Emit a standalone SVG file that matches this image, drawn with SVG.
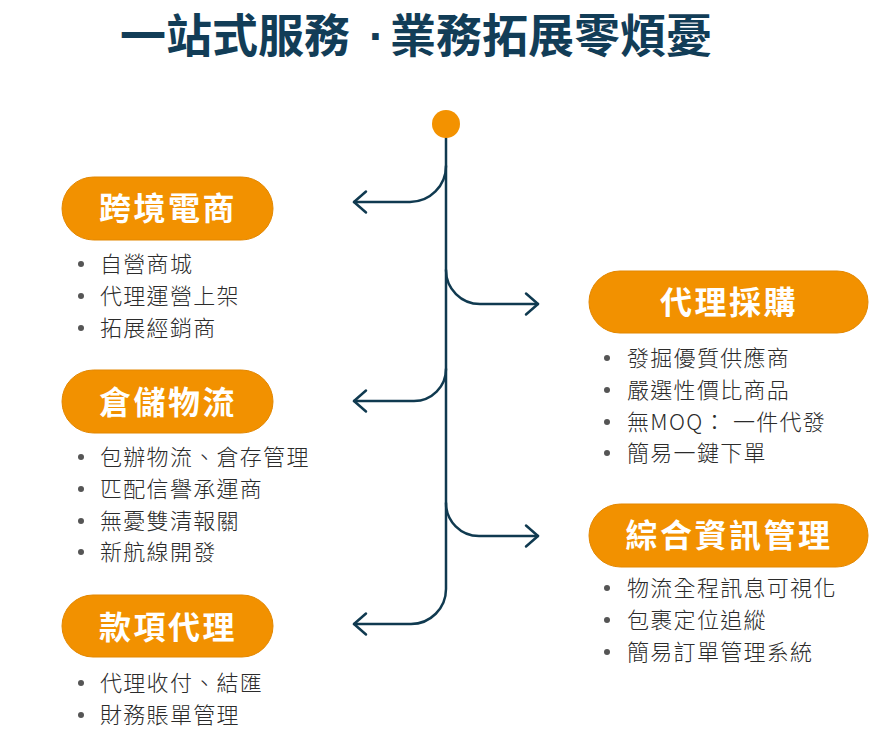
<svg xmlns="http://www.w3.org/2000/svg" width="870" height="731" viewBox="0 0 870 731">
<defs>
<style>
.title{font-family:"Noto Sans CJK TC","Noto Sans CJK SC",sans-serif;font-weight:700;font-size:46px;fill:#123d57}
.tdot{font-family:"Liberation Sans",sans-serif}
.pill{fill:#f29100;stroke:#e38700;stroke-width:1}
.ptxt{font-family:"Noto Sans CJK TC","Noto Sans CJK SC",sans-serif;font-weight:700;font-size:32px;fill:#ffffff;text-anchor:middle;letter-spacing:2.5px}
.btxt{font-family:"Noto Sans CJK TC","Noto Sans CJK SC",sans-serif;font-weight:300;font-size:22px;fill:#2b2b2b;letter-spacing:1.3px}
.dot{fill:#555555}
.conn{fill:none;stroke:#103a50;stroke-width:2.5;stroke-linecap:round}
</style>
<marker id="arr" markerUnits="userSpaceOnUse" markerWidth="16" markerHeight="26" refX="12" refY="11" orient="auto" overflow="visible">
<path d="M0,0.5 L12,11 L0,21.5" fill="none" stroke="#103a50" stroke-width="2.5" stroke-linecap="round" stroke-linejoin="round"/>
</marker>
</defs>
<rect width="870" height="731" fill="#ffffff"/>
<text class="title" x="120" y="52">一站式服務<tspan class="tdot" x="369">·</tspan><tspan x="390">業務拓展零煩憂</tspan></text>
<g id="connectors">
<path class="conn" d="M446,138 V589 A35,35 0 0 1 411,624 H354" marker-end="url(#arr)"/>
<path class="conn" d="M446,166 A36,36 0 0 1 410,202 H354" marker-end="url(#arr)"/>
<path class="conn" d="M446,270 A34,34 0 0 0 480,304 H538" marker-end="url(#arr)"/>
<path class="conn" d="M446,369 A32,32 0 0 1 414,401 H354" marker-end="url(#arr)"/>
<path class="conn" d="M446,503 A33,33 0 0 0 479,536 H538" marker-end="url(#arr)"/>
</g>
<g id="start"><circle cx="446" cy="124" r="14" fill="#f39200"/></g>
<g id="node-crossborder">
<rect class="pill" x="62" y="177" width="211" height="63" rx="31.5"/>
<text class="ptxt" x="168" y="220">跨境電商</text>
<circle class="dot" cx="81" cy="264" r="3"/><text class="btxt" x="100" y="272">自營商城</text>
<circle class="dot" cx="81" cy="296" r="3"/><text class="btxt" x="100" y="304">代理運營上架</text>
<circle class="dot" cx="81" cy="328" r="3"/><text class="btxt" x="100" y="336">拓展經銷商</text>
</g>
<g id="node-procurement">
<rect class="pill" x="589" y="271" width="279" height="62" rx="31"/>
<text class="ptxt" x="729" y="314">代理採購</text>
<circle class="dot" cx="607" cy="358" r="3"/><text class="btxt" x="627" y="366">發掘優質供應商</text>
<circle class="dot" cx="607" cy="390" r="3"/><text class="btxt" x="627" y="398">嚴選性價比商品</text>
<circle class="dot" cx="607" cy="422" r="3"/><text class="btxt" x="627" y="430">無MOQ： 一件代發</text>
<circle class="dot" cx="607" cy="453" r="3"/><text class="btxt" x="627" y="461">簡易一鍵下單</text>
</g>
<g id="node-logistics">
<rect class="pill" x="62" y="370" width="211" height="63" rx="31.5"/>
<text class="ptxt" x="168" y="414">倉儲物流</text>
<circle class="dot" cx="81" cy="457" r="3"/><text class="btxt" x="100" y="465">包辦物流、倉存管理</text>
<circle class="dot" cx="81" cy="489" r="3"/><text class="btxt" x="100" y="497">匹配信譽承運商</text>
<circle class="dot" cx="81" cy="521" r="3"/><text class="btxt" x="100" y="529">無憂雙清報關</text>
<circle class="dot" cx="81" cy="552" r="3"/><text class="btxt" x="100" y="560">新航線開發</text>
</g>
<g id="node-info">
<rect class="pill" x="589" y="504" width="279" height="63" rx="31.5"/>
<text class="ptxt" x="729" y="547">綜合資訊管理</text>
<circle class="dot" cx="607" cy="588" r="3"/><text class="btxt" x="627" y="596">物流全程訊息可視化</text>
<circle class="dot" cx="607" cy="620" r="3"/><text class="btxt" x="627" y="628">包裹定位追縱</text>
<circle class="dot" cx="607" cy="652" r="3"/><text class="btxt" x="627" y="660">簡易訂單管理系統</text>
</g>
<g id="node-payment">
<rect class="pill" x="62" y="595" width="211" height="62" rx="31"/>
<text class="ptxt" x="168" y="639">款項代理</text>
<circle class="dot" cx="81" cy="683" r="3"/><text class="btxt" x="100" y="691">代理收付、結匯</text>
<circle class="dot" cx="81" cy="715" r="3"/><text class="btxt" x="100" y="723">財務賬單管理</text>
</g>
</svg>
